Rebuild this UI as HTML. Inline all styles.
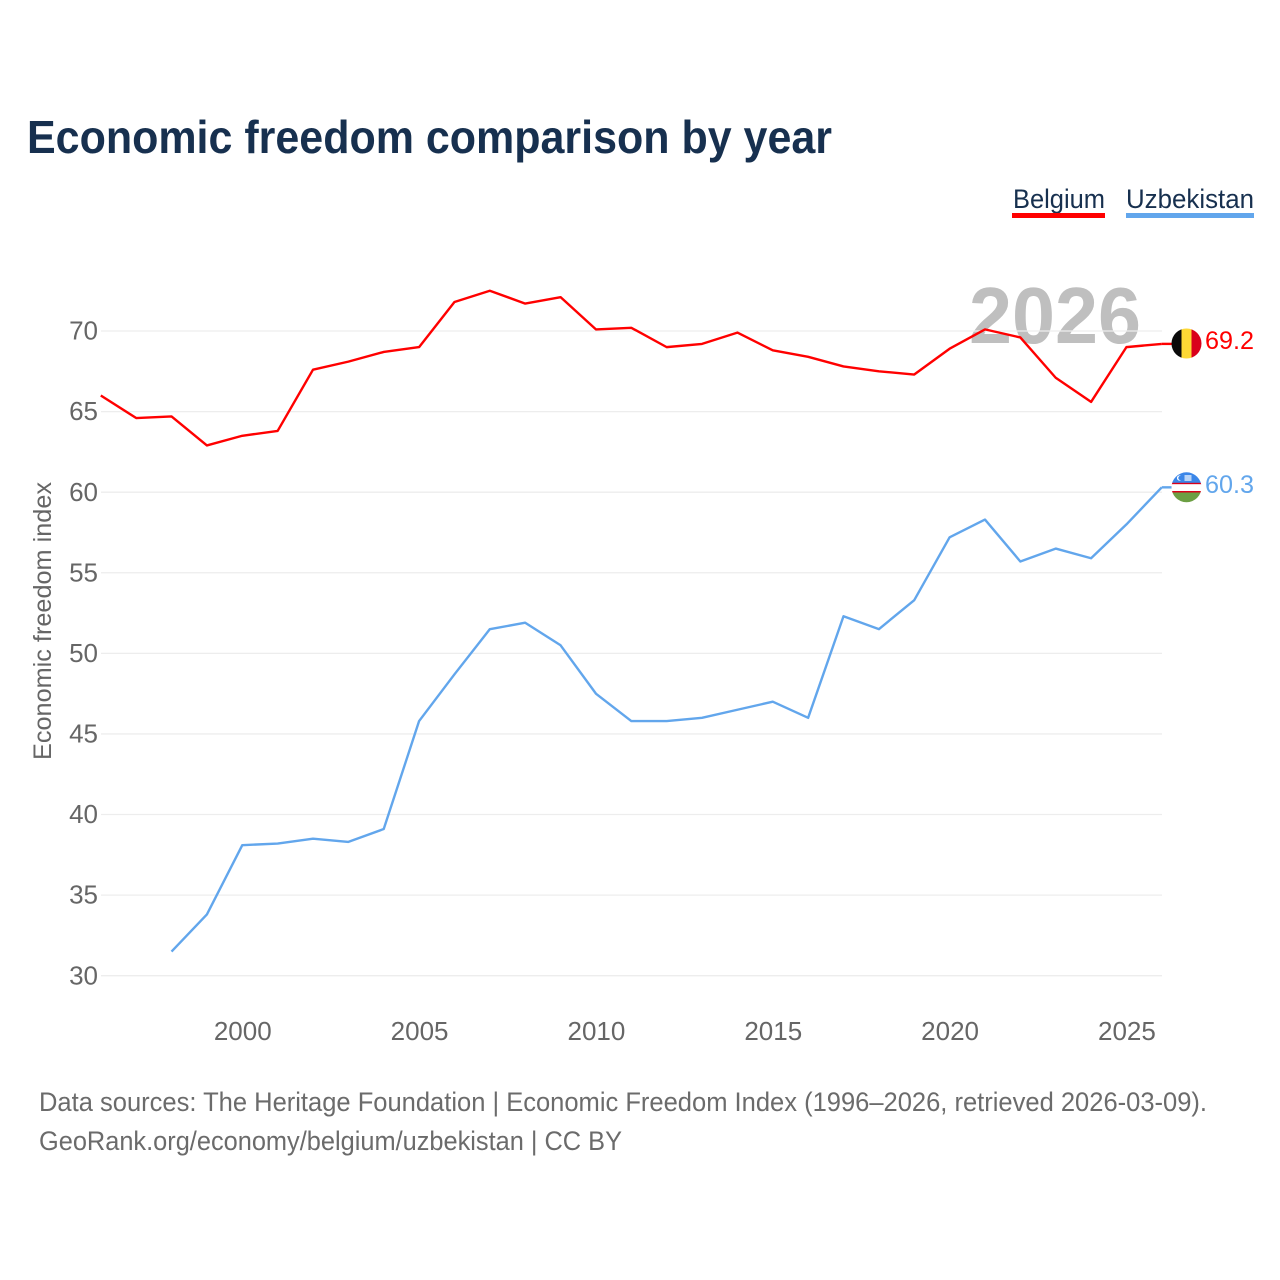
<!DOCTYPE html>
<html lang="en">
<head>
<meta charset="utf-8">
<title>Economic freedom comparison by year</title>
<style>
html,body{margin:0;padding:0;background:#fff;}
svg{display:block;font-family:"Liberation Sans",sans-serif;}
</style>
</head>
<body>
<svg id="chart" xmlns="http://www.w3.org/2000/svg" width="1280" height="1280" viewBox="0 0 1280 1280">
  <defs>
    <clipPath id="flag-clip-be"><circle cx="1186.5" cy="343.5" r="15"></circle></clipPath>
    <clipPath id="flag-clip-uz"><circle cx="1186.5" cy="487.3" r="15"></circle></clipPath>
  </defs>
  <text x="27" y="153" font-size="46" font-weight="700" fill="#17304f" textLength="805" lengthAdjust="spacingAndGlyphs">Economic freedom comparison by year</text>

  <g>
    <text x="1013" y="208" font-size="27" fill="#17304f" textLength="92" lengthAdjust="spacingAndGlyphs">Belgium</text>
    <rect x="1012" y="213" width="93" height="5" fill="#ff0000"></rect>
  </g>
  <g>
    <text x="1126" y="208" font-size="27" fill="#17304f" textLength="128" lengthAdjust="spacingAndGlyphs">Uzbekistan</text>
    <rect x="1126" y="213" width="128" height="5" fill="#62a6ec"></rect>
  </g>

  <text id="year-watermark" x="969" y="343" font-size="80" font-weight="700" fill="#bfbfbf" textLength="172" lengthAdjust="spacingAndGlyphs">2026</text>

  <g id="grid"></g>
  <g id="y-ticks"></g>
  <g id="x-ticks"></g>
  <text transform="translate(51 621) rotate(-90)" text-anchor="middle" font-size="25" fill="#666666" textLength="278" lengthAdjust="spacingAndGlyphs">Economic freedom index</text>

  <g id="series"></g>

  <g clip-path="url(#flag-clip-be)">
    <rect x="1171" y="328" width="10.5" height="31" fill="#0a0a0a"></rect>
    <rect x="1181.5" y="328" width="10" height="31" fill="#fdd835"></rect>
    <rect x="1191.5" y="328" width="10.5" height="31" fill="#d9001b"></rect>
  </g>
  <g clip-path="url(#flag-clip-uz)">
    <rect x="1171" y="472" width="31" height="11" fill="#3b86e8"></rect>
    <rect x="1171" y="482.8" width="31" height="1.5" fill="#d9001b"></rect>
    <rect x="1171" y="484.3" width="31" height="6.7" fill="#ffffff"></rect>
    <rect x="1171" y="491" width="31" height="1.5" fill="#d9001b"></rect>
    <rect x="1171" y="492.5" width="31" height="10" fill="#6c9f43"></rect>
    <circle cx="1179.5" cy="478" r="2.6" fill="#ffffff"></circle>
    <circle cx="1180.5" cy="478" r="2.2" fill="#3b86e8"></circle>
    <rect x="1184.5" y="475" width="7" height="6" fill="#b9d4f7"></rect>
  </g>

  <text id="end-label-belgium" x="1205" y="349" font-size="25" fill="#ff0000" textLength="49" lengthAdjust="spacingAndGlyphs"></text>
  <text id="end-label-uzbekistan" x="1205" y="493" font-size="25" fill="#62a6ec" textLength="49" lengthAdjust="spacingAndGlyphs"></text>

  <text x="39" y="1111" font-size="27" fill="#6b6b6b" textLength="1168" lengthAdjust="spacingAndGlyphs">Data sources: The Heritage Foundation | Economic Freedom Index (1996–2026, retrieved 2026-03-09).</text>
  <text x="39" y="1150" font-size="27" fill="#6b6b6b" textLength="583" lengthAdjust="spacingAndGlyphs">GeoRank.org/economy/belgium/uzbekistan | CC BY</text>
</svg>
<script>
const years = [1996,1997,1998,1999,2000,2001,2002,2003,2004,2005,2006,2007,2008,2009,2010,2011,2012,2013,2014,2015,2016,2017,2018,2019,2020,2021,2022,2023,2024,2025,2026];
const belgiumValues = [66.0,64.6,64.7,62.9,63.5,63.8,67.6,68.1,68.7,69.0,71.8,72.5,71.7,72.1,70.1,70.2,69.0,69.2,69.9,68.8,68.4,67.8,67.5,67.3,68.9,70.1,69.6,67.1,65.6,69.0,69.2];
const uzbekistanValues = [null,null,31.5,33.8,38.1,38.2,38.5,38.3,39.1,45.8,48.7,51.5,51.9,50.5,47.5,45.8,45.8,46.0,46.5,47.0,46.0,52.3,51.5,53.3,57.2,58.3,55.7,56.5,55.9,58.0,60.3];
const yTickLabels = [30,35,40,45,50,55,60,65,70];
const xTickLabels = [2000,2005,2010,2015,2020,2025];

const NS = 'http://www.w3.org/2000/svg';
function xScale(year) { return 100.8 + (year - 1996) * (1161.8 - 100.8) / 30; }
function yScale(value) { return 975.7 - (value - 30) * (975.7 - 331) / 40; }
function make(tag, attrs, parent) {
  const el = document.createElementNS(NS, tag);
  for (const k in attrs) el.setAttribute(k, attrs[k]);
  parent.appendChild(el);
  return el;
}

const gridGroup = document.getElementById('grid');
const yGroup = document.getElementById('y-ticks');
yTickLabels.forEach(function (v) {
  const line = make('line', {x1: 101, x2: 1162, y1: yScale(v), y2: yScale(v), stroke: '#ededed', 'stroke-width': 1.3}, gridGroup);
  
  
  const t = make('text', {x: 98, y: yScale(v) + 8.6, 'text-anchor': 'end', 'font-size': 26, fill: '#666666'}, yGroup);
  
  
  t.textContent = v;
});

const xGroup = document.getElementById('x-ticks');
xTickLabels.forEach(function (y) {
  const t = make('text', {x: xScale(y) + 0.5, y: 1040, 'text-anchor': 'middle', 'font-size': 26, fill: '#666666'}, xGroup);
  
  
  t.textContent = y;
});

function pathFor(values) {
  let d = '';
  values.forEach(function (v, i) {
    if (v === null) return;
    d += (d ? 'L' : 'M') + xScale(years[i]).toFixed(2) + ' ' + yScale(v).toFixed(2);
  });
  return d;
}
const seriesGroup = document.getElementById('series');

const belgiumLine = make('path', {d: pathFor(belgiumValues), fill: 'none', stroke: '#ff0000', 'stroke-width': 2.4, 'stroke-linejoin': 'round'}, seriesGroup);



const uzbekistanLine = make('path', {d: pathFor(uzbekistanValues), fill: 'none', stroke: '#62a6ec', 'stroke-width': 2.4, 'stroke-linejoin': 'round'}, seriesGroup);



const lastBe = belgiumValues[belgiumValues.length - 1];
const lastUz = uzbekistanValues[uzbekistanValues.length - 1];

const belgiumConnector = make('line', {x1: xScale(2026), x2: 1172, y1: yScale(lastBe), y2: yScale(lastBe), stroke: '#ff0000', 'stroke-width': 2.4}, seriesGroup);



const uzbekistanConnector = make('line', {x1: xScale(2026), x2: 1172, y1: yScale(lastUz), y2: yScale(lastUz), stroke: '#62a6ec', 'stroke-width': 2.4}, seriesGroup);



document.getElementById('end-label-belgium').textContent = lastBe.toFixed(1);
document.getElementById('end-label-uzbekistan').textContent = lastUz.toFixed(1);
</script>
</body>
</html>
